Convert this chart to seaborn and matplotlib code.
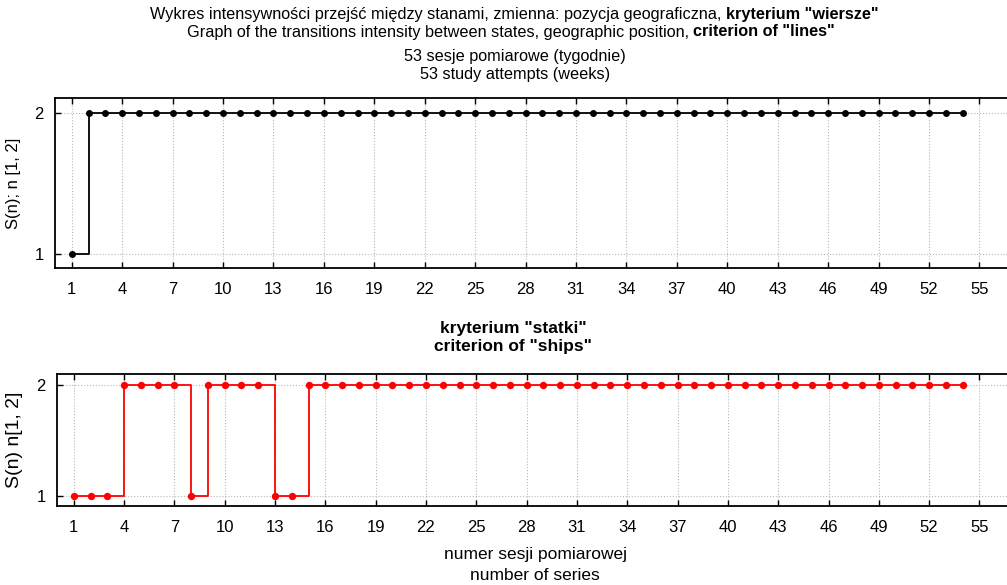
import numpy as np
import pandas as pd
import matplotlib
matplotlib.use("Agg")
import matplotlib.pyplot as plt
import seaborn as sns

# ---- data ----
sessions = list(range(1, 55))
state_lines = [1] + [2] * 53
state_ships = [1, 1, 1, 2, 2, 2, 2, 1, 2, 2, 2, 2, 1, 1] + [2] * 40
xticks = list(range(1, 56, 3))
yticks = [1, 2]

title_l1 = ["Wykres intensywności przejść między stanami, zmienna: pozycja geograficzna, ",
            'kryterium "wiersze"']
title_l2 = ["Graph of the transitions intensity between states, geographic position, ",
            'criterion of "lines"']
title_l3 = ["53 sesje pomiarowe (tygodnie)", "53 study attempts (weeks)"]
sub_title = ['kryterium "statki"', 'criterion of "ships"']
xlabel_lines = ["numer sesji pomiarowej", "number of series"]
ylabels = ["S(n); n [1, 2]", "S(n) n[1, 2]"]

sns.set_theme(style="white")
plt.rcParams['font.family'] = ['Liberation Sans', 'DejaVu Sans']
plt.rcParams['text.color'] = 'black'
plt.rcParams['axes.labelcolor'] = 'black'
plt.rcParams['xtick.color'] = 'black'
plt.rcParams['ytick.color'] = 'black'

fig = plt.figure(figsize=(10.07, 5.85), dpi=100)
W, H = 1007, 585

def axpos(l, t, r, b):
    return [l / W, 1 - b / H, (r - l) / W, (b - t) / H]

ax1 = fig.add_axes(axpos(55, 98, 1013, 268))
ax2 = fig.add_axes(axpos(57, 374, 1013, 506))

df1 = pd.DataFrame({"n": sessions, "S": state_lines})
df2 = pd.DataFrame({"n": sessions, "S": state_ships})

sns.lineplot(data=df1, x="n", y="S", ax=ax1, color="black", lw=1.3,
             drawstyle="steps-post", marker="o", markersize=5,
             markeredgewidth=0, estimator=None)
sns.lineplot(data=df2, x="n", y="S", ax=ax2, color="#ff0000", lw=1.3,
             drawstyle="steps-post", marker="o", markersize=5.3,
             markeredgewidth=0, estimator=None)

for ax, ylab, yfs in [(ax1, ylabels[0], 12), (ax2, ylabels[1], 14)]:
    ax.set_xlim(0, 57)
    ax.set_xticks(xticks)
    ax.set_yticks(yticks)
    ax.grid(True, linestyle=":", color="#b8b8b8", lw=0.8)
    for s in ax.spines.values():
        s.set_color("black")
        s.set_linewidth(1.3)
    ax.tick_params(axis="both", direction="in", length=4, width=1,
                   color="black", labelcolor="black", labelsize=12,
                   top=True, right=True, bottom=True, left=True)
    ax.tick_params(axis="x", pad=10)
    ax.tick_params(axis="y", pad=8)
    ax.set_xlabel("")
    ax.set_ylabel(ylab, fontsize=yfs, labelpad=10, color="black")

ax1.set_ylim(0.9, 2.105)
ax2.set_ylim(0.91, 2.1)

# titles
fs_t = 11.7
r = fig.canvas.get_renderer()

def mixed_line(parts, y, xc):
    ta = fig.text(0, 1 - y / H, parts[0], fontsize=fs_t, va="center", ha="left")
    tb = fig.text(0, 1 - y / H, parts[1], fontsize=fs_t, va="center", ha="left",
                  fontweight="bold")
    wa = ta.get_window_extent(r).width
    wb = tb.get_window_extent(r).width
    x0 = xc - (wa + wb) / 2
    ta.set_x(x0 / W)
    tb.set_x((x0 + wa) / W)

mixed_line(title_l1, 15, 514)
mixed_line(title_l2, 32, 511)

fig.text(515 / W, 1 - 57 / H, title_l3[0], fontsize=fs_t, ha="center", va="center")
fig.text(515 / W, 1 - 74 / H, title_l3[1], fontsize=fs_t, ha="center", va="center")

fig.text(513 / W, 1 - 328 / H, sub_title[0], fontsize=12.5, fontweight="bold", ha="center", va="center")
fig.text(513 / W, 1 - 346 / H, sub_title[1], fontsize=12.5, fontweight="bold", ha="center", va="center")

fig.text(535 / W, 1 - 554 / H, xlabel_lines[0], fontsize=12.5, ha="center", va="center")
fig.text(535 / W, 1 - 576 / H, xlabel_lines[1], fontsize=12.5, ha="center", va="center")

fig.savefig("out.png", dpi=100)
